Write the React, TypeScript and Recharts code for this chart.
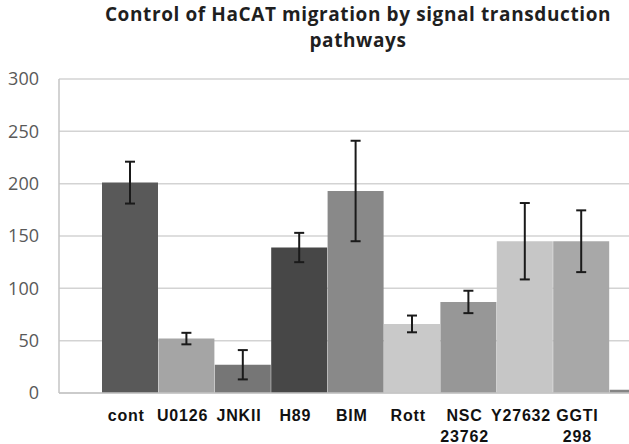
import * as React from 'react'
import { BarChart, Bar, XAxis, YAxis, CartesianGrid, Cell, ErrorBar } from 'recharts'

const treatments = ['cont', 'U0126', 'JNKII', 'H89', 'BIM', 'Rott', 'NSC\n23762', 'Y27632', 'GGTI\n298', '']
const migration = [201, 52, 27, 139, 193, 66, 87, 145, 145, 3]
const errors = [20, 5.5, 14, 14, 48, 8, 10.7, 36.5, 29.5, 0]
const yTicks = [0, 50, 100, 150, 200, 250, 300]

const barColors = ['#595959', '#a5a5a5', '#767676', '#474747', '#898989', '#c9c9c9', '#979797', '#c6c6c6', '#a8a8a8', '#858585']

const data = treatments.map((name, i) => ({ name, value: migration[i], err: errors[i] }))

const TreatmentTick = (props: any) => {
  const { x, y, payload } = props
  const lines = String(payload.value).split('\n')
  return (
    <text
      x={x}
      y={y}
      textAnchor="middle"
      fill="#111"
      fontFamily="Liberation Sans, Arial, sans-serif"
      fontWeight="bold"
      fontSize={16}
      letterSpacing={0.8}
    >
      {lines.map((l, i) => (
        <tspan key={i} x={x - 4} dy={i === 0 ? 26 : 21}>
          {l}
        </tspan>
      ))}
    </text>
  )
}

export default function App() {
  return (
    <div style={{ position: 'absolute', left: 0, top: 0, width: 629, height: 444, overflow: 'hidden', background: '#fff' }}>
      <svg width={629} height={60} style={{ position: 'absolute', left: 0, top: 0 }}>
        <text
          x={358}
          textAnchor="middle"
          fontFamily="Open Sans, sans-serif"
          fontWeight="bold"
          fontSize={19}
          letterSpacing={0.6}
          fill="#1f1f1f"
        >
          <tspan x={358} y={21}>Control of HaCAT migration by signal transduction</tspan>
          <tspan x={358} y={47}>pathways</tspan>
        </text>
      </svg>
      <BarChart
        width={680}
        height={444}
        data={data}
        margin={{ top: 79, right: 14, left: 0, bottom: 0 }}
        barCategoryGap={0}
        barGap={0}
      >
        <CartesianGrid vertical={false} stroke="#d3d3d3" strokeWidth={1.5} />
        <XAxis
          dataKey="name"
          height={51}
          interval={0}
          padding={{ left: 43, right: 0 }}
          axisLine={{ stroke: '#c4c4c4', strokeWidth: 1.5 }}
          tickLine={false}
          tickSize={0}
          tick={<TreatmentTick />}
        />
        <YAxis
          width={59}
          domain={[0, 300]}
          ticks={yTicks}
          interval={0}
          axisLine={{ stroke: '#c4c4c4', strokeWidth: 1.5 }}
          tickLine={false}
          tickSize={0}
          tickMargin={20}
          tick={{ fill: '#595959', fontSize: 18, fontFamily: 'Open Sans, sans-serif' }}
        />
        <Bar dataKey="value" isAnimationActive={false}>
          {data.map((d, i) => (
            <Cell key={d.name + i} fill={barColors[i]} />
          ))}
          <ErrorBar dataKey="err" width={5} stroke="#1a1a1a" strokeWidth={2} direction="y" />
        </Bar>
      </BarChart>
    </div>
  )
}
